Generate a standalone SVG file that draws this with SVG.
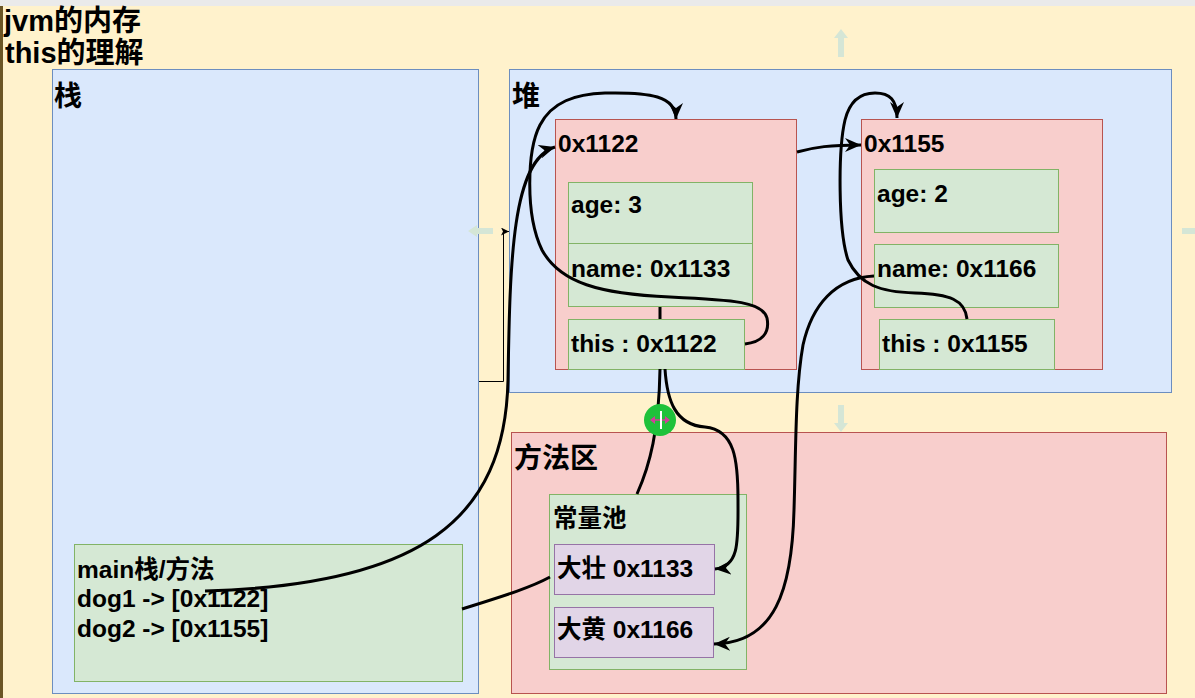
<svg xmlns="http://www.w3.org/2000/svg" width="1195" height="698" viewBox="0 0 1195 698">
<style>
  text { font-family: "Liberation Sans", Arial, "Noto Sans CJK SC", sans-serif; font-weight: bold; fill: #000; }
  .t24 { font-size: 24.5px; }
  .t28 { font-size: 28px; }
  .blue { fill: #DAE8FC; stroke: #6C8EBF; stroke-width: 1; }
  .pink { fill: #F8CECC; stroke: #B85450; stroke-width: 1; }
  .green { fill: #D5E8D4; stroke: #82B366; stroke-width: 1; }
  .purple { fill: #E1D5E7; stroke: #9673A6; stroke-width: 1; }
  .conn { fill: none; stroke: #000; stroke-width: 3; }
  .thin { fill: none; stroke: #000; stroke-width: 1; }
  .hint { fill: #D5E6D6; }
</style>
<defs>
  <marker id="arr" markerUnits="userSpaceOnUse" markerWidth="18" markerHeight="14" refX="16" refY="7" orient="auto">
    <path d="M0,0 L16,7 L0,14 L5,7 z" fill="#000"/>
  </marker>
  <marker id="arrs" markerUnits="userSpaceOnUse" markerWidth="10" markerHeight="8" refX="8" refY="4" orient="auto">
    <path d="M0,0 L8,4 L0,8 L2,4 z" fill="#000"/>
  </marker>
</defs>

<!-- background -->
<rect x="0" y="0" width="1195" height="698" fill="#FFF2CC"/>
<rect x="0" y="0" width="1195" height="6" fill="#EAEAEA"/>
<rect x="0" y="6" width="3" height="692" fill="#6B5525"/>

<!-- title -->
<g id="title">
  <text x="4" y="31" font-size="29">jvm的内存</text>
  <text x="5" y="63" font-size="29">this的理解</text>
</g>

<!-- stack -->
<g id="stack">
  <rect class="blue" x="52.5" y="69.5" width="426" height="624"/>
  <text class="t28" x="54" y="106">栈</text>
</g>

<!-- heap -->
<g id="heap">
  <rect class="blue" x="509.5" y="69.5" width="662" height="323"/>
  <text class="t28" x="512" y="106">堆</text>
</g>

<!-- method area -->
<g id="method-area">
  <rect class="pink" x="511.5" y="432.5" width="655" height="261"/>
  <text class="t28" x="514" y="468">方法区</text>
</g>

<!-- object 0x1122 -->
<g id="obj-0x1122">
  <rect class="pink" x="555.5" y="119.5" width="241" height="250"/>
  <text class="t24" x="558" y="152">0x1122</text>
</g>
<g id="obj1-age">
  <rect class="green" x="568.5" y="182.5" width="184" height="61"/>
  <text class="t24" x="571" y="213">age: 3</text>
</g>
<g id="obj1-name">
  <rect class="green" x="568.5" y="243.5" width="184" height="63"/>
  <text class="t24" x="571" y="277">name: 0x1133</text>
</g>
<g id="obj1-this">
  <rect class="green" x="568.5" y="319.5" width="176" height="50"/>
  <text class="t24" x="571" y="352">this : 0x1122</text>
</g>

<!-- object 0x1155 -->
<g id="obj-0x1155">
  <rect class="pink" x="861.5" y="119.5" width="241" height="250"/>
  <text class="t24" x="864" y="152">0x1155</text>
</g>
<g id="obj2-age">
  <rect class="green" x="874.5" y="169.5" width="184" height="63"/>
  <text class="t24" x="877" y="202">age: 2</text>
</g>
<g id="obj2-name">
  <rect class="green" x="874.5" y="244.5" width="184" height="63"/>
  <text class="t24" x="877" y="277">name: 0x1166</text>
</g>
<g id="obj2-this">
  <rect class="green" x="879.5" y="319.5" width="175" height="50"/>
  <text class="t24" x="882" y="352">this : 0x1155</text>
</g>

<!-- constant pool -->
<g id="const-pool">
  <rect class="green" x="549.5" y="494.5" width="197" height="175"/>
  <text class="t24" x="553" y="527">常量池</text>
</g>
<g id="str-dazhuang">
  <rect class="purple" x="554.5" y="544.5" width="160" height="50"/>
  <text class="t24" x="557" y="577">大壮 0x1133</text>
</g>
<g id="str-dahuang">
  <rect class="purple" x="554.5" y="607.5" width="159" height="50"/>
  <text class="t24" x="557" y="638">大黄 0x1166</text>
</g>

<!-- main frame -->
<g id="main-frame">
  <rect class="green" x="74.5" y="544.5" width="388" height="137"/>
  <text class="t24" x="77" y="578">main栈/方法</text>
  <text class="t24" x="77" y="607">dog1 -&gt; [0x1122]</text>
  <text class="t24" x="77" y="637">dog2 -&gt; [0x1155]</text>
</g>

<!-- connectors -->
<g id="connectors">
  <path class="thin" d="M479,381.5 L503.5,381.5 L503.5,231.5 L509,231.5" marker-end="url(#arrs)"/>
  <path class="conn" d="M205,591 C420,585 505,520 508,380 C510,260 512,160 555,147" marker-end="url(#arr)"/>
  <path class="conn" d="M745,344 C762,342 770,333 767,318 C763,302 735,300 670,297 C600,294 560,283 542,250 C525,215 527,150 540,125 C552,102 575,94 605,93 C650,92 676,96 676,119" marker-end="url(#arr)"/>
  <path class="conn" d="M797,152 C815,147 830,145 861,145" marker-end="url(#arr)"/>
  <path class="conn" d="M967,319 C965,300 950,294 915,293 C880,292 860,285 848,260 C838,230 838,150 845,120 C850,100 862,93 875,93 C890,93 897,100 897,118" marker-end="url(#arr)"/>
  <path class="conn" d="M874,276 C835,278 812,305 803,345 C795,390 796,450 794,510 C792,590 775,643 714,644" marker-end="url(#arr)"/>
  <path class="conn" d="M660,307 L660,319"/>
  <path class="conn" d="M665,369 C667,400 675,425 705,427 C735,430 738,460 738,500 C738,540 740,567 715,569" marker-end="url(#arr)"/>
  <path class="conn" d="M462,609 C500,597 530,588 550,577"/>
  <path class="conn" d="M637,494 C650,465 659,430 660,369"/>
</g>

<!-- editor hover hints -->
<g id="hints">
  <path class="hint" d="M841,29 L848,38 L844,38 L844,57 L838,57 L838,38 L834,38 z"/>
  <path class="hint" d="M841,432 L848,423 L844,423 L844,405 L838,405 L838,423 L834,423 z"/>
  <path class="hint" d="M468,231 L477,225 L477,228 L493,228 L493,234 L477,234 L477,237 z"/>
  <path class="hint" d="M1182,228 L1195,228 L1195,234 L1182,234 z"/>
  <circle cx="660" cy="420" r="16" fill="#1EC23A"/>
  <path d="M650,420 L655,416 L655,424 z M670,420 L665,416 L665,424 z" fill="#D0409A"/>
  <line x1="655" y1="420" x2="665" y2="420" stroke="#D0409A" stroke-width="1.5"/>
  <rect x="660" y="411" width="2" height="18" fill="#FFFFFF"/>
</g>
</svg>
